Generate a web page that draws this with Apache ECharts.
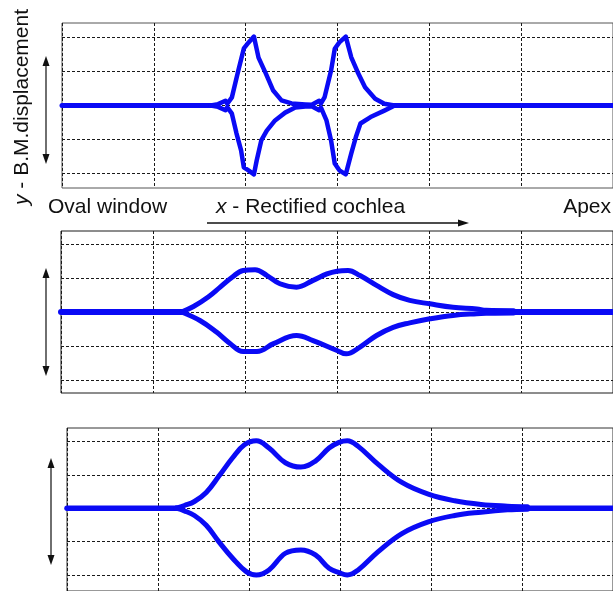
<!DOCTYPE html>
<html>
<head>
<meta charset="utf-8">
<script src="https://cdn.jsdelivr.net/npm/echarts@6/dist/echarts.min.js"></script>
<style>
html,body{margin:0;padding:0;background:#fff;}
#c{width:613px;height:591px;}
</style>
</head>
<body>
<div id="c"></div>
<script>
// ---- text ----
const yTitleItalic = 'y';
const yTitleRest = ' - B.M.displacement';
const xTitleItalic = 'x';
const xTitleRest = ' - Rectified cochlea';
const leftLabel = 'Oval window';
const rightLabel = 'Apex';

// ---- grid values (gridline positions, in axis units) ----
const yGridValues = [-2, -1, 0, 1, 2];

// ---- Panel 1 (sharp tuning) ----
const p1BaseLeft = [[0, 0], [1.66, 0]];
const p1BaseRight = [[3.60, 0], [6, 0]];
const p1Upper = [[1.62,0],[1.70,0.04],[1.78,0.14],[1.80,0.05],[1.85,0.24],[1.92,1.03],[1.98,1.68],[2.03,1.85],[2.09,2.03],[2.14,1.41],[2.22,0.94],[2.30,0.44],[2.39,0.15],[2.50,0.06],[2.65,0.03],[2.72,0.02],[2.80,0.14],[2.82,0.06],[2.86,0.25],[2.93,1.03],[2.97,1.67],[3.02,1.86],[3.09,2.03],[3.15,1.42],[3.22,0.98],[3.30,0.54],[3.41,0.20],[3.51,0.05],[3.62,0]];
const p1Lower = [[1.62,0],[1.70,-0.04],[1.78,-0.14],[1.80,-0.05],[1.85,-0.24],[1.90,-0.82],[1.95,-1.32],[1.98,-1.82],[2.03,-1.91],[2.09,-2.03],[2.12,-1.62],[2.17,-1.03],[2.23,-0.74],[2.32,-0.44],[2.43,-0.21],[2.54,-0.06],[2.65,-0.03],[2.72,-0.02],[2.80,-0.14],[2.82,-0.06],[2.88,-0.44],[2.93,-1.03],[2.97,-1.71],[3.02,-1.91],[3.09,-2.03],[3.15,-1.41],[3.20,-0.93],[3.25,-0.53],[3.36,-0.34],[3.51,-0.15],[3.58,-0.06],[3.62,0]];

// ---- Panel 2 ----
const p2BaseLeft = [[0, 0], [1.31, 0]];
const p2BaseRight = [[4.90, 0], [6, 0]];
const p2Upper = [[1.31,0],[1.44,0.16],[1.60,0.44],[1.73,0.73],[1.86,1.02],[1.98,1.22],[2.11,1.24],[2.24,1.07],[2.38,0.83],[2.56,0.73],[2.74,0.93],[2.89,1.12],[3.00,1.20],[3.12,1.22],[3.25,1.07],[3.43,0.78],[3.61,0.51],[3.79,0.34],[4.01,0.24],[4.26,0.14],[4.52,0.09],[4.62,0.05],[4.92,0.04]];
const p2Lower = [[1.31,0],[1.51,-0.25],[1.69,-0.59],[1.84,-0.93],[1.98,-1.16],[2.13,-1.16],[2.31,-0.93],[2.56,-0.69],[2.74,-0.84],[3.00,-1.13],[3.10,-1.23],[3.25,-1.03],[3.43,-0.69],[3.61,-0.45],[3.79,-0.32],[4.01,-0.20],[4.26,-0.10],[4.52,-0.05],[4.62,-0.04],[4.92,-0.03]];

// ---- Panel 3 ----
const p3BaseLeft = [[0, 0], [1.24, 0]];
const p3BaseRight = [[5.00, 0], [6, 0]];
const p3Upper = [[1.20,0],[1.29,0.08],[1.40,0.20],[1.53,0.47],[1.67,0.96],[1.82,1.51],[1.95,1.90],[2.08,2.02],[2.22,1.80],[2.40,1.36],[2.57,1.23],[2.73,1.41],[2.88,1.80],[2.99,1.97],[3.08,2.02],[3.20,1.85],[3.42,1.31],[3.68,0.77],[3.97,0.42],[4.26,0.22],[4.55,0.11],[4.84,0.06],[5.06,0.04]];
const p3Lower = [[1.20,0],[1.29,-0.08],[1.40,-0.22],[1.53,-0.51],[1.67,-1.01],[1.82,-1.50],[1.97,-1.90],[2.08,-2.00],[2.22,-1.85],[2.40,-1.35],[2.57,-1.25],[2.73,-1.40],[2.88,-1.80],[2.99,-1.93],[3.08,-2.00],[3.20,-1.85],[3.42,-1.30],[3.68,-0.76],[3.97,-0.41],[4.26,-0.22],[4.55,-0.12],[4.84,-0.05],[5.06,-0.03]];

const BLUE = '#0a0af5';
const FONT = '"Liberation Sans", Arial, sans-serif';

const chart = echarts.init(document.getElementById('c'), null, {renderer: 'canvas'});

const grids = [
  {left: 62, top: 23, width: 555, height: 165, yMin: -2.43, yMax: 2.43, border: '#555'},
  {left: 61, top: 231, width: 553, height: 162, yMin: -2.38, yMax: 2.38, border: '#1a1a1a'},
  {left: 67, top: 428, width: 549, height: 165, yMin: -2.48, yMax: 2.40, border: '#333'}
];

const dash = {color: '#1a1a1a', width: 1, type: [3, 2]};

function xAx(i) {
  return {
    type: 'value', gridIndex: i, min: 0, max: 6, interval: 1,
    axisLine: {show: false}, axisTick: {show: false}, axisLabel: {show: false},
    splitLine: {show: true, lineStyle: dash}
  };
}
function yAx(i, lo, hi) {
  return {
    type: 'value', gridIndex: i, min: lo, max: hi,
    axisLine: {show: false},
    axisTick: {show: false, customValues: yGridValues},
    axisLabel: {show: false, customValues: yGridValues},
    splitLine: {show: true, lineStyle: dash}
  };
}
function line(data, i, width, smooth) {
  return {
    type: 'line', xAxisIndex: i, yAxisIndex: i, data: data,
    showSymbol: false, symbol: 'none', smooth: smooth, silent: true,
    lineStyle: {color: BLUE, width: width, cap: 'round', join: 'round'},
    z: 5
  };
}

const series = [
  line(p1BaseLeft, 0, 5, false), line(p1BaseRight, 0, 5, false),
  line(p1Upper, 0, 4.5, false), line(p1Lower, 0, 4.5, false),
  line(p2BaseLeft, 1, 6, false), line(p2BaseRight, 1, 6, false),
  line(p2Upper, 1, 5, 0.4), line(p2Lower, 1, 5, 0.4),
  line(p3BaseLeft, 2, 5.5, false), line(p3BaseRight, 2, 5.5, false),
  line(p3Upper, 2, 5, 0.4), line(p3Lower, 2, 5, 0.4)
];

function vArrow(x, y1, y2) {
  return [
    {type: 'line', shape: {x1: x, y1: y1 + 8, x2: x, y2: y2 - 8}, style: {stroke: '#222', lineWidth: 1.3}},
    {type: 'polygon', shape: {points: [[x, y1], [x - 3.5, y1 + 10], [x + 3.5, y1 + 10]]}, style: {fill: '#111'}},
    {type: 'polygon', shape: {points: [[x, y2], [x - 3.5, y2 - 10], [x + 3.5, y2 - 10]]}, style: {fill: '#111'}}
  ];
}

const graphic = [].concat(
  vArrow(46, 56, 164),
  vArrow(46, 268, 376),
  vArrow(51, 458, 565),
  [
    {type: 'line', shape: {x1: 207, y1: 223, x2: 460, y2: 223}, style: {stroke: '#111', lineWidth: 1.3}},
    {type: 'polygon', shape: {points: [[469, 223], [458, 219.5], [458, 226.5]]}, style: {fill: '#111'}},
    {type: 'text', x: 48, y: 207, style: {text: leftLabel, font: '21px ' + FONT, fill: '#111', align: 'left', verticalAlign: 'middle'}},
    {type: 'text', x: 611, y: 207, style: {text: rightLabel, font: '21px ' + FONT, fill: '#111', align: 'right', verticalAlign: 'middle'}},
    {type: 'text', x: 216, y: 207, style: {
      text: '{i|' + xTitleItalic + '}{n|' + xTitleRest + '}',
      align: 'left', verticalAlign: 'middle',
      rich: {i: {font: 'italic 21px ' + FONT, fill: '#111'}, n: {font: '21px ' + FONT, fill: '#111'}}
    }},
    {type: 'text', x: 22, y: 107, rotation: Math.PI / 2, style: {
      text: '{i|' + yTitleItalic + '}{n|' + yTitleRest + '}',
      align: 'center', verticalAlign: 'middle',
      rich: {i: {font: 'italic 21px ' + FONT, fill: '#111'}, n: {font: '21px ' + FONT, fill: '#111'}}
    }}
  ]
);

chart.setOption({
  animation: false,
  backgroundColor: '#fff',
  grid: grids.map(g => ({left: g.left, top: g.top, width: g.width, height: g.height, show: true, borderColor: g.border, borderWidth: 1, backgroundColor: 'transparent', containLabel: false})),
  xAxis: grids.map((g, i) => xAx(i)),
  yAxis: grids.map((g, i) => yAx(i, g.yMin, g.yMax)),
  series: series,
  graphic: graphic
});
</script>
</body>
</html>
